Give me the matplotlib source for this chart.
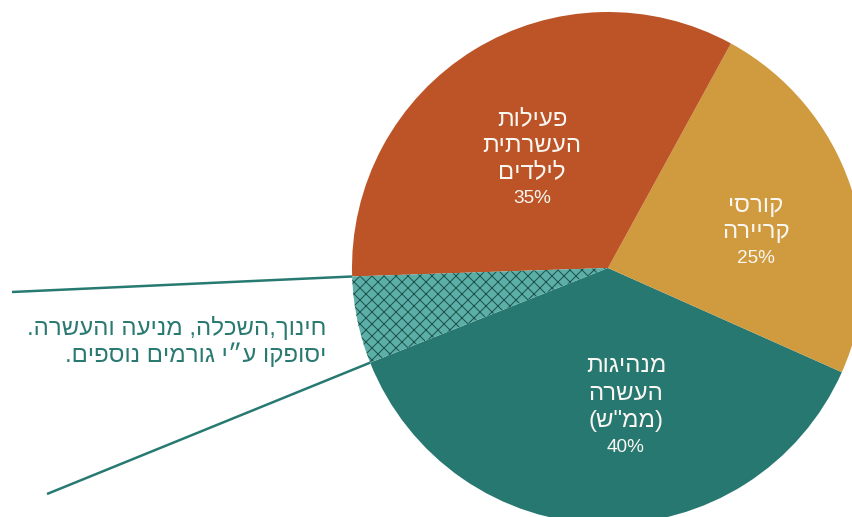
import numpy as np
import matplotlib.pyplot as plt

plt.rcParams['font.family'] = ['Liberation Sans', 'DejaVu Sans']

# נתונים - חלקי העוגה (נגד כיוון השעון, מתחילים במנהיגות)
slices = [37.3, 23.7, 33.5, 5.5]
slice_names = [['מנהיגות', 'העשרה', '(\u05DE\u05DE"\u05E9)'],
               ['קורסי', 'קריירה'],
               ['פעילות', 'העשרתית', 'לילדים'],
               []]
slice_pct = ['40%', '25%', '35%', '']
colors = ['#267870', '#D09A3E', '#BC5427', '#5CAFA6']
note_lines = ['חינוך,השכלה, מניעה והעשרה.', 'יסופקו ע״י גורמים נוספים.']


def rtl(s):
    # matplotlib כותב משמאל לימין - הופכים את הסדר ומחליפים סוגריים
    s = s[::-1]
    return s.translate(str.maketrans('()', ')('))


W, H = 852, 517
fig = plt.figure(figsize=(W / 72, H / 72), dpi=72)
ax = fig.add_axes([0, 0, 1, 1])

cx, cy, r = 608, H - 268, 256
wedges, _ = ax.pie(slices, colors=colors, startangle=201.7, center=(cx, cy),
                   radius=r, wedgeprops=dict(linewidth=0))
ax.set_xlim(0, W)
ax.set_ylim(0, H)
ax.set_aspect('equal')
ax.axis('off')

# החלק המקווקו
hw = wedges[3]
hw.set_hatch('xx')
hw.set_edgecolor('#1C534E')
hw.set_linewidth(0)

# קווי הסבר מהחלק המקווקו
line_ends = [(12, H - 292), (47, H - 494)]
for th, (x0, y0) in zip([hw.theta1, hw.theta2], line_ends):
    a = np.deg2rad(th)
    ax.plot([x0, cx + r * np.cos(a)], [y0, cy + r * np.sin(a)],
            color='#277A71', lw=2.5, solid_capstyle='butt')

# תוויות בתוך העוגה (מיקום קו בסיס בפיקסלים)
label_x = [626, 756, 532]
label_base = [[372, 400, 427, 452], [212, 238, 263], [125, 152, 178, 203]]
for i in range(3):
    lines = slice_names[i]
    for k, txt in enumerate(lines):
        ax.text(label_x[i], H - label_base[i][k], rtl(txt), color='#FAF7F2',
                fontsize=24, ha='center', va='baseline')
    ax.text(label_x[i], H - label_base[i][len(lines)], slice_pct[i],
            color='#FAF7F2', fontsize=19, ha='center', va='baseline')

for k, txt in enumerate(note_lines):
    ax.text(326, H - (335 + 27 * k), rtl(txt), color='#2B7A72', fontsize=24,
            ha='right', va='baseline')

fig.savefig('out.png', dpi=72)
